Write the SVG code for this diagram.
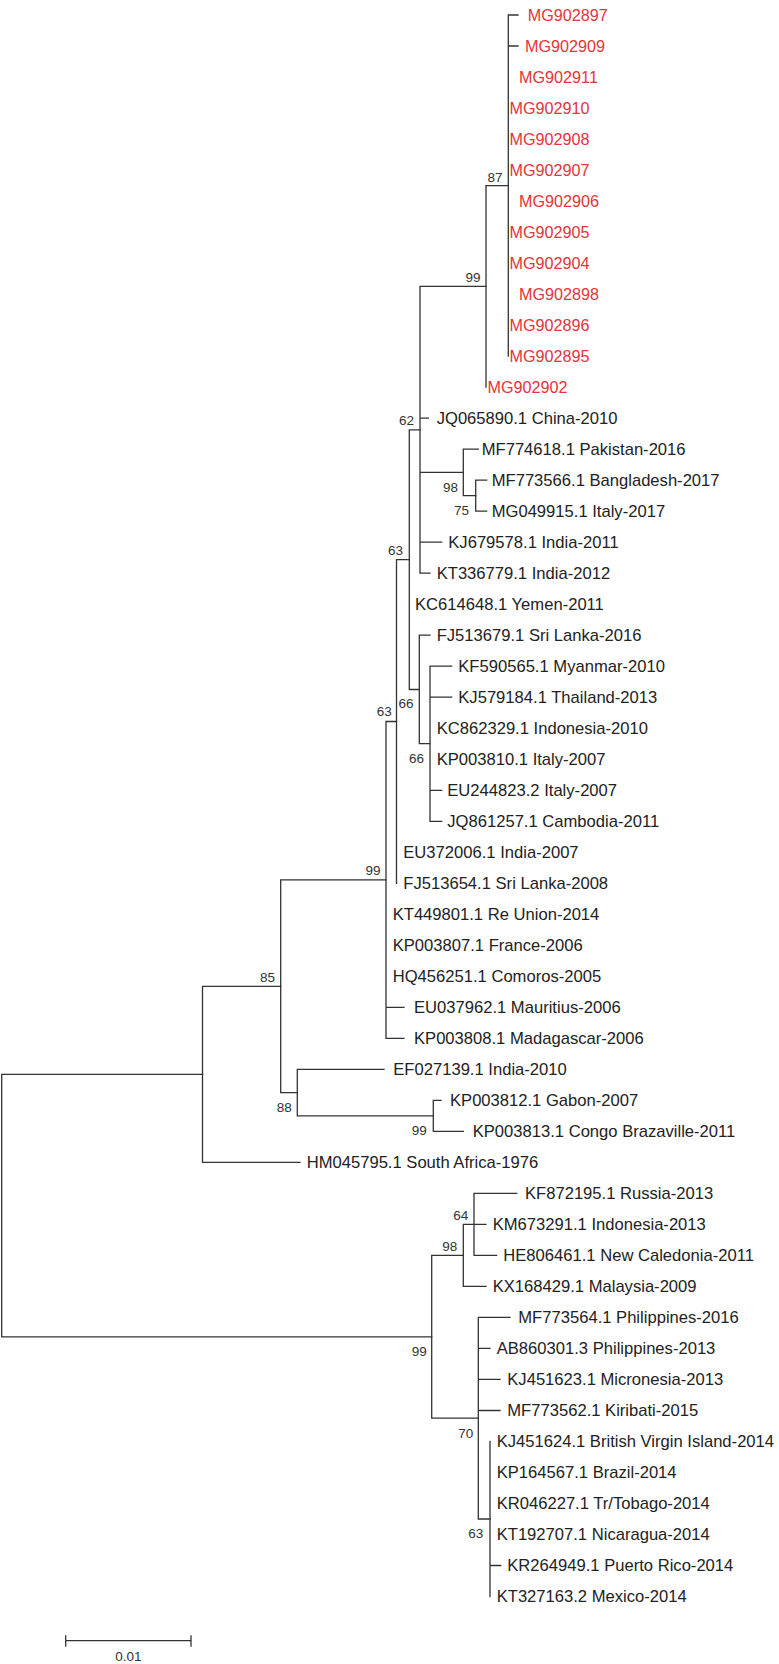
<svg xmlns="http://www.w3.org/2000/svg" width="779" height="1664" viewBox="0 0 779 1664">
<style>
.br{fill:none;stroke:#333;stroke-width:1.3;stroke-linecap:square}
.lf{font-family:"Liberation Sans",Arial,sans-serif;font-size:16.6px;fill:#222}
.rd{fill:#e5343a;font-size:16.2px}
.bs{font-family:"Liberation Sans",Arial,sans-serif;font-size:13.5px;fill:#333;text-anchor:end}
.sc{font-family:"Liberation Sans",Arial,sans-serif;font-size:13.5px;fill:#333;text-anchor:middle}
</style>
<rect width="779" height="1664" fill="#fff"/>
<g id="connectors" class="br">
<path d="M1.7,1074.3V1336.8M1.7,1074.3H202.5M1.7,1336.8H431.7"/>
<path d="M202.5,986.3V1162.4M202.5,986.3H280.7M202.5,1162.4H300"/>
<path d="M280.7,879.9V1092.6M280.7,879.9H386M280.7,1092.6H297.3"/>
<path d="M297.3,1069.3V1115.9M297.3,1069.3H384M297.3,1115.9H433.3"/>
<path d="M433.3,1100.4V1131.4M433.3,1100.4H441M433.3,1131.4H463.3"/>
<path d="M386,721.5V1038.3M386,721.5H396.5M386,1007.3H404M386,1038.3H404"/>
<path d="M396.5,559.6V883.3M396.5,559.6H409.3"/>
<path d="M409.3,429.8V689.5M409.3,429.8H420M409.3,689.5H419.3"/>
<path d="M419.3,635.2V743.7M419.3,635.2H430M419.3,743.7H430"/>
<path d="M430,666.2V821.3M430,666.2H451.7M430,697.2H451.7M430,790.3H441.7M430,821.3H441.7"/>
<path d="M420,286.4V573.2M420,286.4H486M420,418.1H428.3M420,472.4H463.3M420,542.2H441.7M420,573.2H430"/>
<path d="M463.3,449.1V495.7M463.3,449.1H478.3M463.3,495.7H475.7"/>
<path d="M475.7,480.2V511.2M475.7,480.2H486.7M475.7,511.2H486.7"/>
<path d="M486,185.6V387.1M486,185.6H508.3"/>
<path d="M508.3,15V356.1M508.3,15H518M508.3,46H518"/>
<path d="M431.7,1255.4V1418.2M431.7,1255.4H463.3M431.7,1418.2H478.3"/>
<path d="M463.3,1224.4V1286.4M463.3,1224.4H474M463.3,1286.4H486"/>
<path d="M474,1193.4V1255.4M474,1193.4H516.7M474,1224.4H486M474,1255.4H496.7"/>
<path d="M478.3,1317.4V1519M478.3,1317.4H510M478.3,1348.4H490M478.3,1379.4H500M478.3,1410.5H500M478.3,1519H490"/>
<path d="M490,1441.5V1596.5M490,1565.5H500.7"/>
</g>
<g id="leaves">
<g id="MG902897"><text class="lf rd" x="527.7" y="20.5">MG902897</text></g>
<g id="MG902909"><text class="lf rd" x="525" y="51.5">MG902909</text></g>
<g id="MG902911"><text class="lf rd" x="519" y="82.5">MG902911</text></g>
<g id="MG902910"><text class="lf rd" x="509.5" y="113.5">MG902910</text></g>
<g id="MG902908"><text class="lf rd" x="509.5" y="144.5">MG902908</text></g>
<g id="MG902907"><text class="lf rd" x="509.5" y="175.5">MG902907</text></g>
<g id="MG902906"><text class="lf rd" x="519" y="206.6">MG902906</text></g>
<g id="MG902905"><text class="lf rd" x="509.5" y="237.6">MG902905</text></g>
<g id="MG902904"><text class="lf rd" x="509.5" y="268.6">MG902904</text></g>
<g id="MG902898"><text class="lf rd" x="519" y="299.6">MG902898</text></g>
<g id="MG902896"><text class="lf rd" x="509.5" y="330.6">MG902896</text></g>
<g id="MG902895"><text class="lf rd" x="509.5" y="361.6">MG902895</text></g>
<g id="MG902902"><text class="lf rd" x="487.5" y="392.6">MG902902</text></g>
<g id="JQ065890"><text class="lf" x="436.7" y="423.8">JQ065890.1 China-2010</text></g>
<g id="MF774618"><text class="lf" x="481.7" y="454.8">MF774618.1 Pakistan-2016</text></g>
<g id="MF773566"><text class="lf" x="491.7" y="485.9">MF773566.1 Bangladesh-2017</text></g>
<g id="MG049915"><text class="lf" x="491.7" y="516.9">MG049915.1 Italy-2017</text></g>
<g id="KJ679578"><text class="lf" x="448.3" y="547.9">KJ679578.1 India-2011</text></g>
<g id="KT336779"><text class="lf" x="436.7" y="578.9">KT336779.1 India-2012</text></g>
<g id="KC614648"><text class="lf" x="415" y="609.9">KC614648.1 Yemen-2011</text></g>
<g id="FJ513679"><text class="lf" x="436.7" y="640.9">FJ513679.1 Sri Lanka-2016</text></g>
<g id="KF590565"><text class="lf" x="458.3" y="671.9">KF590565.1 Myanmar-2010</text></g>
<g id="KJ579184"><text class="lf" x="458.3" y="702.9">KJ579184.1 Thailand-2013</text></g>
<g id="KC862329"><text class="lf" x="436.7" y="733.9">KC862329.1 Indonesia-2010</text></g>
<g id="KP003810"><text class="lf" x="436.7" y="764.9">KP003810.1 Italy-2007</text></g>
<g id="EU244823"><text class="lf" x="447.3" y="796">EU244823.2 Italy-2007</text></g>
<g id="JQ861257"><text class="lf" x="447.3" y="827">JQ861257.1 Cambodia-2011</text></g>
<g id="EU372006"><text class="lf" x="403.3" y="858">EU372006.1 India-2007</text></g>
<g id="FJ513654"><text class="lf" x="403.3" y="889">FJ513654.1 Sri Lanka-2008</text></g>
<g id="KT449801"><text class="lf" x="392.7" y="920">KT449801.1 Re Union-2014</text></g>
<g id="KP003807"><text class="lf" x="392.7" y="951">KP003807.1 France-2006</text></g>
<g id="HQ456251"><text class="lf" x="392.7" y="982">HQ456251.1 Comoros-2005</text></g>
<g id="EU037962"><text class="lf" x="414" y="1013">EU037962.1 Mauritius-2006</text></g>
<g id="KP003808"><text class="lf" x="414" y="1044">KP003808.1 Madagascar-2006</text></g>
<g id="EF027139"><text class="lf" x="393.3" y="1075">EF027139.1 India-2010</text></g>
<g id="KP003812"><text class="lf" x="450" y="1106.1">KP003812.1 Gabon-2007</text></g>
<g id="KP003813"><text class="lf" x="472.7" y="1137.1">KP003813.1 Congo Brazaville-2011</text></g>
<g id="HM045795"><text class="lf" x="306.7" y="1168.1">HM045795.1 South Africa-1976</text></g>
<g id="KF872195"><text class="lf" x="525" y="1199.1">KF872195.1 Russia-2013</text></g>
<g id="KM673291"><text class="lf" x="492.7" y="1230.1">KM673291.1 Indonesia-2013</text></g>
<g id="HE806461"><text class="lf" x="503.3" y="1261.1">HE806461.1 New Caledonia-2011</text></g>
<g id="KX168429"><text class="lf" x="492.7" y="1292.1">KX168429.1 Malaysia-2009</text></g>
<g id="MF773564"><text class="lf" x="518.3" y="1323.1">MF773564.1 Philippines-2016</text></g>
<g id="AB860301"><text class="lf" x="496.7" y="1354.1">AB860301.3 Philippines-2013</text></g>
<g id="KJ451623"><text class="lf" x="507.3" y="1385.1">KJ451623.1 Micronesia-2013</text></g>
<g id="MF773562"><text class="lf" x="507.3" y="1416.2">MF773562.1 Kiribati-2015</text></g>
<g id="KJ451624"><text class="lf" x="496.7" y="1447.2">KJ451624.1 British Virgin Island-2014</text></g>
<g id="KP164567"><text class="lf" x="496.7" y="1478.2">KP164567.1 Brazil-2014</text></g>
<g id="KR046227"><text class="lf" x="496.7" y="1509.2">KR046227.1 Tr/Tobago-2014</text></g>
<g id="KT192707"><text class="lf" x="496.7" y="1540.2">KT192707.1 Nicaragua-2014</text></g>
<g id="KR264949"><text class="lf" x="507.3" y="1571.2">KR264949.1 Puerto Rico-2014</text></g>
<g id="KT327163"><text class="lf" x="496.7" y="1602.2">KT327163.2 Mexico-2014</text></g>
</g>
<g id="internal-nodes">
<g id="n87"><text class="bs" x="502.5" y="181.5">87</text></g>
<g id="n99a"><text class="bs" x="480.5" y="281.7">99</text></g>
<g id="n62"><text class="bs" x="414" y="425">62</text></g>
<g id="n98a"><text class="bs" x="458" y="491.5">98</text></g>
<g id="n75"><text class="bs" x="469" y="515">75</text></g>
<g id="n63a"><text class="bs" x="403" y="555">63</text></g>
<g id="n66a"><text class="bs" x="413.5" y="708">66</text></g>
<g id="n63b"><text class="bs" x="391.7" y="715.7">63</text></g>
<g id="n66b"><text class="bs" x="424" y="763.3">66</text></g>
<g id="n99b"><text class="bs" x="380.5" y="875">99</text></g>
<g id="n85"><text class="bs" x="275" y="981.7">85</text></g>
<g id="n88"><text class="bs" x="291.7" y="1112.3">88</text></g>
<g id="n99c"><text class="bs" x="426.7" y="1135">99</text></g>
<g id="n64"><text class="bs" x="468.3" y="1220">64</text></g>
<g id="n98b"><text class="bs" x="457.3" y="1250.7">98</text></g>
<g id="n99d"><text class="bs" x="426.7" y="1355.7">99</text></g>
<g id="n70"><text class="bs" x="473.3" y="1438.3">70</text></g>
<g id="n63c"><text class="bs" x="483.3" y="1538.3">63</text></g>
</g>
<g id="scale-bar">
<path class="br" d="M65.7,1640.7H191M65.7,1636V1646M191,1636V1646"/>
<text class="sc" x="128.3" y="1660.5">0.01</text>
</g>
</svg>
